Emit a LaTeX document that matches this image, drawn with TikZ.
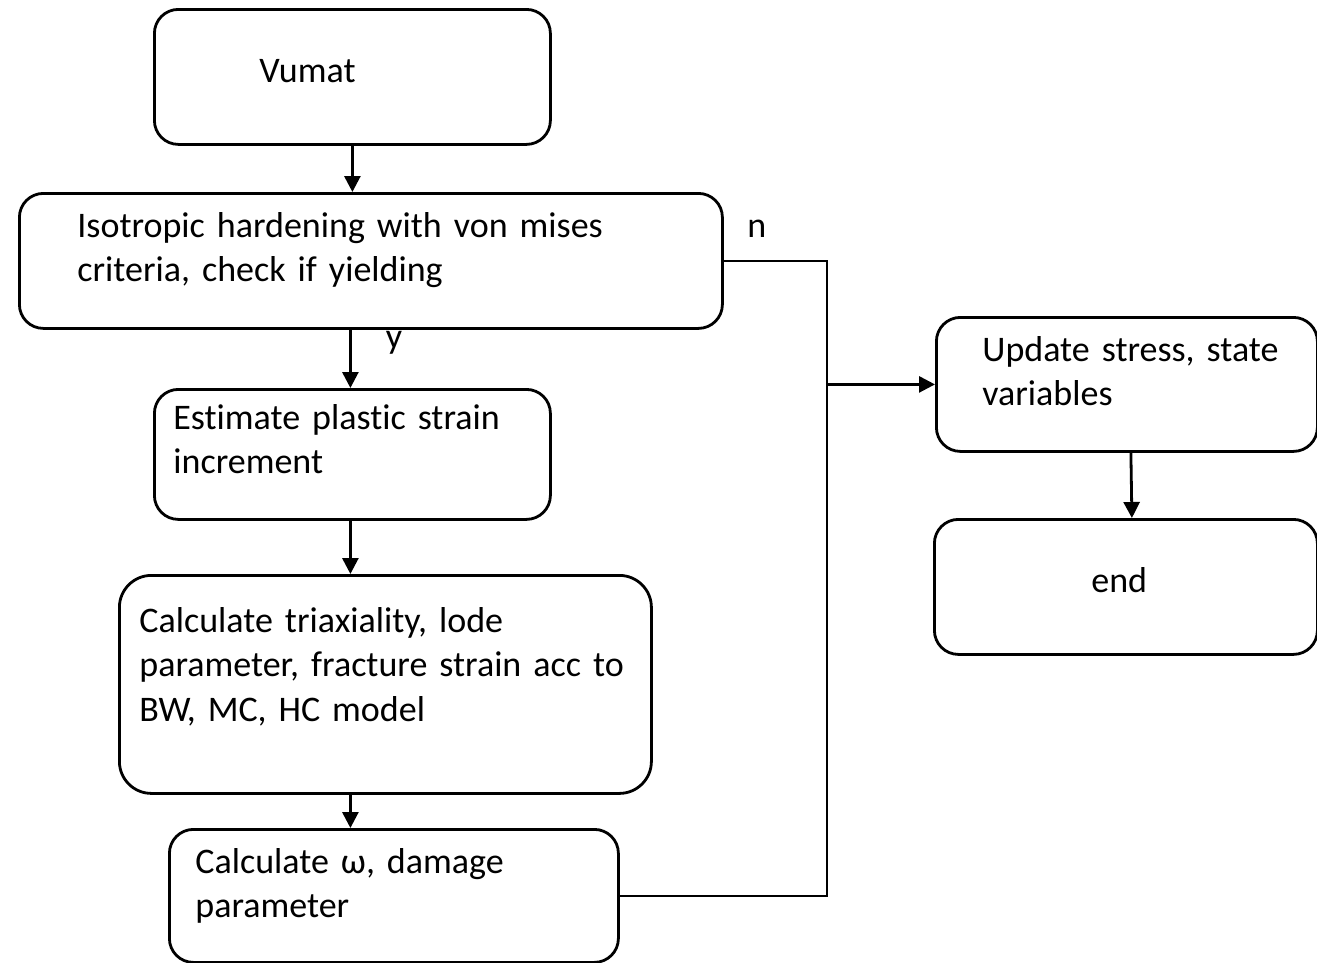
\documentclass[tikz,border=0pt]{standalone}
\usepackage{fontspec}
\setmainfont{Carlito}[Ligatures={NoCommon}]
\usetikzlibrary{arrows.meta}

\tikzset{
  stepbox/.style={draw, line width=2.8pt, rounded corners=24pt, inner sep=0pt,
    anchor=north west, font=\fontsize{36}{44.5}\selectfont},
  flow/.style={line width=2.8pt, -{Triangle[length=16pt, width=16pt]}},
  link/.style={line width=2.8pt},
  lab/.style={inner sep=0pt, font=\fontsize{36}{44.5}\selectfont},
}

\begin{document}
\begin{tikzpicture}[x=1pt, y=-1pt]
  \useasboundingbox (0,0) rectangle (1317,962);

  % left column
  \node[stepbox, text width=396pt, text height=73pt, text depth=62pt] (vumat) at (153,8)
    {\raggedright\leftskip=105pt Vumat\par};
  \node[stepbox, text width=703pt, text height=44pt, text depth=91pt] (iso) at (18,192)
    {\raggedright\leftskip=58pt Isotropic hardening with von mises\\ criteria, check if yielding\par};
  \node[stepbox, text width=396pt, text height=40pt, text depth=90pt] (est) at (153,388)
    {\raggedright\leftskip=19pt Estimate plastic strain\\ increment\par};
  \node[stepbox, rounded corners=32pt, text width=532pt, text height=57pt, text depth=161pt] (calc) at (118,574)
    {\raggedright\leftskip=20pt Calculate triaxiality, lode\\ parameter, fracture strain acc to\\ BW, MC, HC model\par};
  \node[stepbox, text width=449pt, text height=44pt, text depth=89pt] (omega) at (168,828)
    {\raggedright\leftskip=26pt Calculate ω, damage\\ parameter\par};

  % right column
  \node[stepbox, text width=381pt, text height=44pt, text depth=90pt] (upd) at (935,316)
    {\raggedright\leftskip=46pt Update stress, state\\ variables\par};
  \node[stepbox, text width=383pt, text height=73pt, text depth=62pt] (end) at (933,518)
    {\raggedright\leftskip=157pt end\par};

  \path (upd.west) ++(-108,0) coordinate (jn);

  \draw[flow] (vumat.south) -- (vumat.south |- iso.north);
  \draw[flow] ([xshift=-2pt]est.north |- iso.south) -- ([xshift=-2pt]est.north)
    node[lab, pos=0.22, anchor=west, xshift=34pt] (ylab) {y};
  \draw[flow] ([xshift=-2pt]est.south) -- ([xshift=-2pt]est.south |- calc.north);
  \draw[flow] ([xshift=-2pt]est.south |- calc.south) -- ([xshift=-2pt]est.south |- omega.north);
  \draw[flow] (iso.east) -| node[lab, pos=0.16, anchor=south, yshift=22pt] (nlab) {n} (jn) -- (upd.west);
  \draw[link] (omega.east) -| (jn);
  \draw[flow] ([xshift=4pt]upd.south) -- ([xshift=6pt]end.north);
\end{tikzpicture}
\end{document}
